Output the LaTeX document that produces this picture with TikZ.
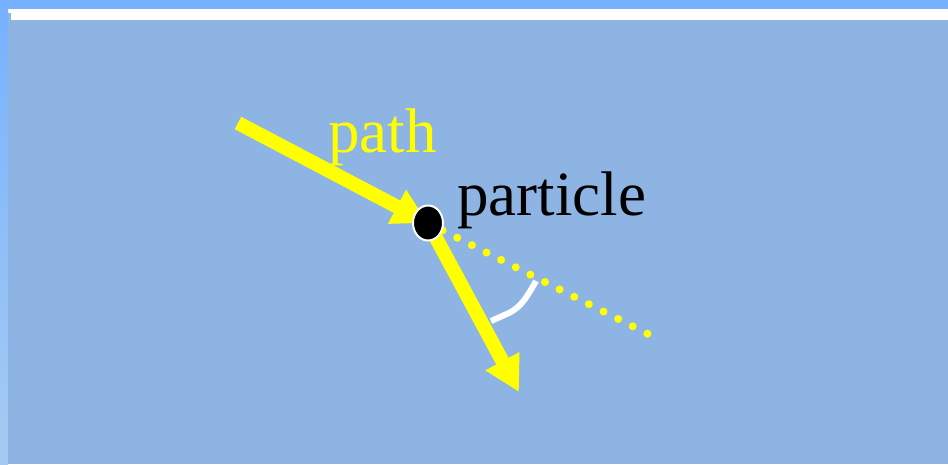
\documentclass[tikz,border=0pt]{standalone}
\usepackage{fontspec}
\setmainfont{Liberation Serif}
\usetikzlibrary{arrows.meta, shapes.geometric}
\definecolor{slide}{HTML}{8EB4E3}
\definecolor{band}{HTML}{76B1FE}
\definecolor{bandlow}{HTML}{A6CBF2}
\definecolor{ray}{HTML}{FFFF00}

\begin{document}
\begin{tikzpicture}[x=1pt, y=-1pt,
          ar/.style={ray, line width=14pt, -{Triangle[length=35pt, width=36pt]}},
          dot/.style={draw=white, fill=black, line width=2pt, ellipse, minimum width=30pt,
                      minimum height=35pt, inner sep=0pt},
          lbl/.style={font=\fontsize{63}{70}\selectfont, anchor=base west, inner sep=0pt}
        ]
        \useasboundingbox (0,0) rectangle (948,464);
        \fill[band] (0,0) rectangle (948,9);
        \shade[top color=band, bottom color=bandlow] (0,0) rectangle (8,464);
        \fill[slide] (8,13) rectangle (948,464);
        \fill[white] (11,9) rectangle (948,20);

        \coordinate (pc) at (428,223);
        \coordinate (src) at (238,123);
        \coordinate (dst) at (519,392);
        \coordinate (far) at (648,334);
        \draw[ray, line width=8pt, line cap=round, dash pattern=on 0pt off 16.38pt] (pc) -- (far);
        \draw[ar] (src) -- (pc);
        \draw[ar] (pc) -- (dst);
        \node[dot] (particle) at (pc) {};

        \coordinate (a1) at (491,321);
        \coordinate (a2) at (536,281);
        \draw[white, line width=6pt] (a1) -- (509,313) .. controls (521,307) and (527,297) .. (a2);

        \node[lbl, ray] (pathlbl) at (328,152) {path};
        \node[lbl] (partlbl) at (457,215) {particle};
      \end{tikzpicture}
\end{document}
